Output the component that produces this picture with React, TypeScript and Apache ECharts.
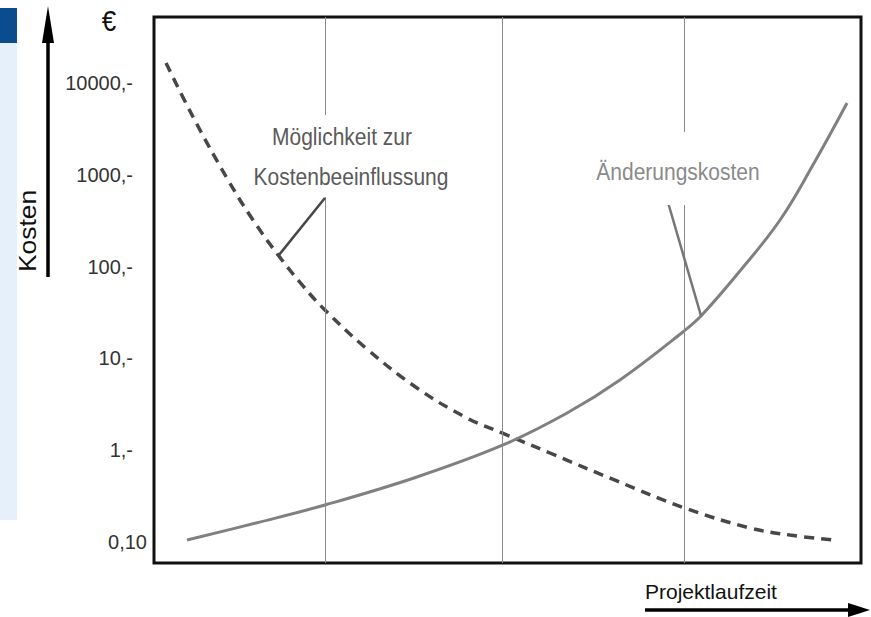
import React, { useEffect, useRef } from "react";
import * as echarts from "echarts";

// Projektlaufzeit in quarters of the frame (0..4)
const dashedX = [0.068, 0.221, 0.419, 0.56, 0.702, 0.843, 0.967, 1.205, 1.488, 1.771, 1.969, 2.24, 2.619, 3.004, 3.372, 3.598, 3.842];
// Möglichkeit zur Kostenbeeinflussung
const dashedY = [16520, 4266, 877, 322, 134, 61.5, 33.7, 12.65, 4.76, 2.24, 1.54, 0.932, 0.462, 0.234, 0.142, 0.119, 0.105];

const solidX = [0.187, 0.577, 0.967, 1.488, 1.975, 2.337, 2.636, 2.999, 3.1, 3.315, 3.542, 3.728, 3.921];
// Änderungskosten
const solidY = [0.105, 0.161, 0.253, 0.511, 1.14, 2.54, 5.82, 19.9, 29.7, 89.5, 322, 1279, 6055];

// vertical phase lines
const gridX = [0.973, 1.969, 2.999];

const yTickValues = [0.1, 1, 10, 100, 1000, 10000];
const yTickLabels = ["0,10", "1,-", "10,-", "100,-", "1000,-", "10000,-"];

// leader lines (data coordinates)
const leaderDashed = [[0.702, 130], [0.967, 559]];
const leaderSolid = [[2.891, 650], [3.095, 29.0]];

const FONT = "'Liberation Sans', Arial, sans-serif";

export default function App() {
  const ref = useRef<HTMLDivElement>(null);
  useEffect(() => {
    if (!ref.current) return;
    const chart = echarts.init(ref.current, null, { renderer: "svg" });
    const zip = (xs: number[], ys: number[]) => xs.map((x, i) => [x, ys[i]]);
    chart.setOption({
      animation: false,
      backgroundColor: "#ffffff",
      grid: {
        left: 154,
        right: 10,
        top: 17,
        bottom: 54,
        show: true,
        borderColor: "#111111",
        borderWidth: 3,
        backgroundColor: "transparent",
        containLabel: false,
        outerBoundsMode: "none",
      },
      xAxis: {
        type: "value",
        min: 0,
        max: 4,
        interval: 1,
        axisLine: { show: false },
        axisTick: { show: false },
        axisLabel: { show: false },
        splitLine: { show: false },
      },
      yAxis: {
        type: "log",
        logBase: 10,
        min: 0.05904,
        max: 52360,
        axisLine: { show: false },
        axisTick: { show: false },
        splitLine: { show: false },
        axisLabel: {
          show: true,
          margin: 7,
          align: "right",
          hideOverlap: false,
          fontFamily: FONT,
          fontSize: 20,
          color: "#333333",
          formatter: (v: number) => {
            const i = yTickValues.findIndex(
              (t) => Math.abs(Math.log10(v) - Math.log10(t)) < 0.01
            );
            if (i < 0) return "";
            return i === 0 ? yTickLabels[0] : `{a|${yTickLabels[i]}}`;
          },
          rich: {
            a: { fontFamily: FONT, fontSize: 20, color: "#333333", padding: [0, 14, 0, 0] },
          },
        },
      },
      series: [
        {
          type: "line",
          name: "grid",
          data: [],
          z: 1,
          silent: true,
          markLine: {
            silent: true,
            symbol: ["none", "none"],
            label: { show: false },
            lineStyle: { color: "#8a8a8a", width: 1, type: "solid" },
            data: gridX.map((x) => ({ xAxis: x })),
          },
        },
        {
          type: "line",
          name: "Möglichkeit zur Kostenbeeinflussung",
          data: zip(dashedX, dashedY),
          smooth: 0.4,
          showSymbol: false,
          lineStyle: { color: "#474747", width: 3.5, type: [10, 7] },
          z: 3,
          markLine: {
            silent: true,
            symbol: ["none", "none"],
            label: { show: false },
            lineStyle: { color: "#474747", width: 2.5, type: "solid" },
            data: [[{ coord: leaderDashed[0] }, { coord: leaderDashed[1] }]],
          },
        },
        {
          type: "line",
          name: "Änderungskosten",
          data: zip(solidX, solidY),
          smooth: 0.4,
          showSymbol: false,
          lineStyle: { color: "#808080", width: 3 },
          z: 3,
          markLine: {
            silent: true,
            symbol: ["none", "none"],
            label: { show: false },
            lineStyle: { color: "#777777", width: 2.5, type: "solid" },
            data: [[{ coord: leaderSolid[0] }, { coord: leaderSolid[1] }]],
          },
        },
      ],
      graphic: [
        { type: "rect", z: 1, shape: { x: 0, y: 8, width: 17, height: 35 }, style: { fill: "#0b4c8f" } },
        { type: "rect", z: 1, shape: { x: 0, y: 43, width: 17, height: 477 }, style: { fill: "#e6f0fb" } },
        { type: "line", z: 1, shape: { x1: 48, y1: 277, x2: 48, y2: 38 }, style: { stroke: "#000", lineWidth: 3.5 } },
        { type: "polygon", z: 1, shape: { points: [[48, 6], [42, 43], [54, 43]] }, style: { fill: "#000" } },
        { type: "line", z: 1, shape: { x1: 645, y1: 610, x2: 852, y2: 610 }, style: { stroke: "#000", lineWidth: 3.5 } },
        { type: "polygon", z: 1, shape: { points: [[870, 610], [848, 603], [848, 617]] }, style: { fill: "#000" } },
        {
          type: "text", z: 1, x: 109, y: 21, scaleY: 1.1,
          style: { text: "€", font: `26px ${FONT}`, fill: "#111", align: "center", verticalAlign: "middle" },
        },
        {
          type: "text", z: 1, x: 27, y: 231, rotation: Math.PI / 2, scaleX: 1.1,
          style: { text: "Kosten", font: `24px ${FONT}`, fill: "#111", align: "center", verticalAlign: "middle" },
        },
        { type: "rect", z: 50, shape: { x: 250, y: 115, width: 205, height: 82 }, style: { fill: "#ffffff" } },
        { type: "rect", z: 50, shape: { x: 590, y: 132, width: 175, height: 73 }, style: { fill: "#ffffff" } },
        {
          type: "text", z: 51, x: 342, y: 137, scaleY: 1.15,
          style: { text: "Möglichkeit zur", font: `21px ${FONT}`, fill: "#5a5a5a", align: "center", verticalAlign: "middle" },
        },
        {
          type: "text", z: 51, x: 351, y: 177, scaleY: 1.15,
          style: { text: "Kostenbeeinflussung", font: `21px ${FONT}`, fill: "#5a5a5a", align: "center", verticalAlign: "middle" },
        },
        {
          type: "text", z: 51, x: 678, y: 172, scaleY: 1.15,
          style: { text: "Änderungskosten", font: `21px ${FONT}`, fill: "#8a8a8a", align: "center", verticalAlign: "middle" },
        },
        {
          type: "text", z: 1, x: 645, y: 591,
          style: { text: "Projektlaufzeit", font: `21px ${FONT}`, fill: "#111", align: "left", verticalAlign: "middle" },
        },
      ],
    });
    return () => chart.dispose();
  }, []);
  return (
    <div
      ref={ref}
      style={{ position: "fixed", left: 0, top: 0, width: 871, height: 617 }}
    />
  );
}
